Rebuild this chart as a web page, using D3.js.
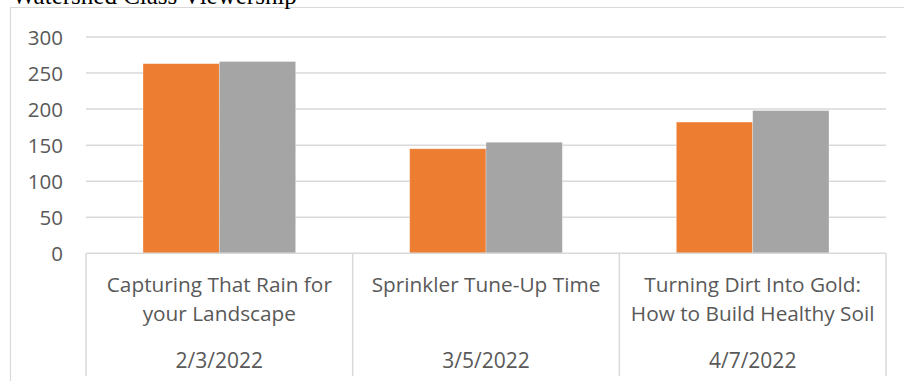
<!DOCTYPE html>
<html>
<head>
<meta charset="utf-8">
<script src="https://cdn.jsdelivr.net/npm/d3@7"></script>
<style>
  body { margin: 0; background: #fff; }
  svg { display: block; }
</style>
</head>
<body>
<script>
// Data
var titleText = "Watershed Class Viewership";
var classNames = [
  ["Capturing That Rain for", "your Landscape"],
  ["Sprinkler Tune-Up Time"],
  ["Turning Dirt Into Gold:", "How to Build Healthy Soil"]
];
var classDates = ["2/3/2022", "3/5/2022", "4/7/2022"];
var seriesNames = ["Series 1", "Series 2"];
var series1 = [263, 145, 182];
var series2 = [266, 154, 198];
var yTicks = [0, 50, 100, 150, 200, 250, 300];
var colors = ["#ED7D31", "#A5A5A5"];

var W = 904, H = 381;
var svg = d3.select("body").append("svg")
  .attr("width", W)
  .attr("height", H);

var plot = {left: 86, right: 886, top: 37, bottom: 253.3};
var axisBottom = 376;
var gridColor = "#d9d9d9";
var textColor = "#595959";
var labelFont = "'Open Sans', sans-serif";

// Chart area border (only top and left visible)
svg.append("path")
  .attr("d", "M10.5," + H + "V7.5H" + W)
  .attr("fill", "none")
  .attr("stroke", gridColor)
  .attr("stroke-width", 1.2);

// Title, cut off at the top as in the original
svg.append("text")
  .attr("x", 12)
  .attr("y", 3.5)
  .style("font-family", "'Liberation Serif', 'Times New Roman', serif")
  .style("font-size", "25px")
  .style("fill", "#000")
  .text(titleText);

// Scales
var x0 = d3.scaleBand()
  .domain(d3.range(classDates.length))
  .range([plot.left, plot.right])
  .padding(0);

var x1 = d3.scaleBand()
  .domain(seriesNames)
  .range([0, x0.bandwidth()])
  .paddingInner(0)
  .paddingOuter(0.747);

var y = d3.scaleLinear()
  .domain([0, 300])
  .range([plot.bottom, plot.top]);

// Gridlines
svg.append("g")
  .selectAll("line")
  .data(yTicks.filter(function(d) { return d > 0; }))
  .enter()
  .append("line")
  .attr("x1", plot.left)
  .attr("x2", plot.right)
  .attr("y1", function(d) { return y(d); })
  .attr("y2", function(d) { return y(d); })
  .attr("stroke", gridColor)
  .attr("stroke-width", 1.5);

// Y axis labels
var yAxis = d3.axisLeft(y)
  .tickValues(yTicks)
  .tickSize(0)
  .tickPadding(0);

var yg = svg.append("g")
  .attr("transform", "translate(63,0)")
  .call(yAxis);
yg.select(".domain").remove();
yg.selectAll("text")
  .style("font-family", labelFont)
  .style("font-size", "20.5px")
  .style("fill", textColor)
  .attr("dy", "0.36em");

// Bars
var rows = classDates.map(function(d, i) {
  return [
    {key: seriesNames[0], value: series1[i], color: colors[0]},
    {key: seriesNames[1], value: series2[i], color: colors[1]}
  ];
});

svg.append("g")
  .selectAll("g")
  .data(rows)
  .enter()
  .append("g")
  .attr("transform", function(d, i) { return "translate(" + x0(i) + ",0)"; })
  .selectAll("rect")
  .data(function(d) { return d; })
  .enter()
  .append("rect")
  .attr("x", function(d) { return x1(d.key); })
  .attr("y", function(d) { return y(d.value); })
  .attr("width", x1.bandwidth())
  .attr("height", function(d) { return y(0) - y(d.value); })
  .attr("fill", function(d) { return d.color; })
  .attr("stroke", "rgba(255,255,255,0.35)")
  .attr("stroke-width", 0.8);

// Category axis box
var axisG = svg.append("g");
axisG.append("line")
  .attr("x1", plot.left)
  .attr("x2", plot.right)
  .attr("y1", y(0))
  .attr("y2", y(0))
  .attr("stroke", gridColor)
  .attr("stroke-width", 1.5);

var edges = x0.domain().map(function(i) { return x0(i); }).concat([plot.right]);
axisG.selectAll(".divider")
  .data(edges)
  .enter()
  .append("line")
  .attr("class", "divider")
  .attr("x1", function(d) { return d; })
  .attr("x2", function(d) { return d; })
  .attr("y1", y(0))
  .attr("y2", axisBottom)
  .attr("stroke", gridColor)
  .attr("stroke-width", 1.5);

// Category labels (two levels: class name, then date)
var labelG = axisG.selectAll(".cat")
  .data(classNames)
  .enter()
  .append("text")
  .attr("class", "cat")
  .attr("text-anchor", "middle")
  .attr("x", function(d, i) { return x0(i) + x0.bandwidth() / 2; })
  .attr("y", 291.5)
  .style("font-family", labelFont)
  .style("font-size", "20.8px")
  .style("fill", textColor);

labelG.selectAll("tspan")
  .data(function(d) { return d; })
  .enter()
  .append("tspan")
  .attr("x", function() { return d3.select(this.parentNode).attr("x"); })
  .attr("dy", function(d, i) { return i === 0 ? 0 : 29; })
  .text(function(d) { return d; });

axisG.selectAll(".date")
  .data(classDates)
  .enter()
  .append("text")
  .attr("class", "date")
  .attr("text-anchor", "middle")
  .attr("x", function(d, i) { return x0(i) + x0.bandwidth() / 2; })
  .attr("y", 367.5)
  .style("font-family", labelFont)
  .style("font-size", "21px")
  .style("fill", textColor)
  .text(function(d) { return d; });
</script>
</body>
</html>
